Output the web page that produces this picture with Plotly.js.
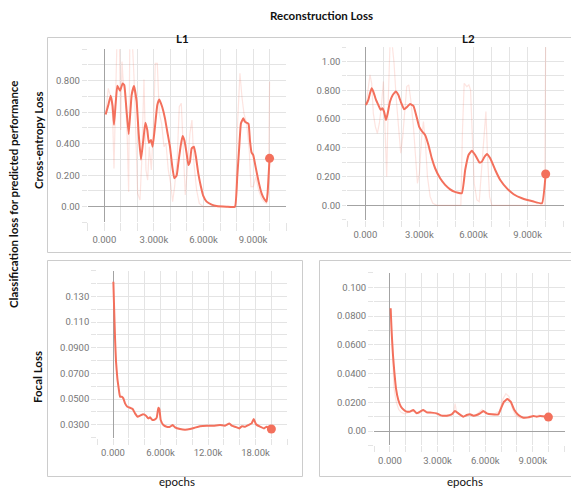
<!DOCTYPE html>
<html><head><meta charset="utf-8">
<script src="https://cdn.plot.ly/plotly-3.0.1.min.js"></script>
<style>html,body{margin:0;padding:0;background:#fff;}#chart{width:571px;height:489px;}</style>
</head><body><div id="chart"></div>
<script>
// ---------- data ----------
// L1 / cross-entropy (top-left)
const tlX = [80,240,380,500,585,690,786,950,1109,1210,1310,1472,1653,1794,1956,2077,2218,2359,2480,2600,2700,2822,2923,3065,3206,3327,3508,3669,3810,3972,4113,4234,4375,4476,4617,4738,4839,4980,5081,5181,5282,5423,5544,5685,5847,5988,6190,6492,6794,7399,7903,8044,8165,8266,8407,8508,8609,8730,8810,8911,9012,9173,9335,9516,9677,9819,9879,10000];
const tlY = [0.586,0.645,0.705,0.64,0.52,0.66,0.768,0.736,0.783,0.772,0.656,0.461,0.709,0.766,0.667,0.466,0.30,0.423,0.533,0.487,0.406,0.423,0.381,0.508,0.646,0.681,0.631,0.561,0.476,0.381,0.254,0.18,0.197,0.275,0.385,0.449,0.423,0.339,0.265,0.286,0.37,0.381,0.317,0.212,0.127,0.068,0.032,0.013,0.004,0.0,0.0,0.19,0.381,0.529,0.561,0.54,0.533,0.525,0.423,0.343,0.328,0.243,0.159,0.085,0.049,0.032,0.085,0.307];
const tlRawX = [81,242,383,504,585,706,786,907,988,1069,1149,1270,1391,1472,1552,1673,1794,1915,2016,2157,2258,2399,2520,2621,2722,2843,2964,3085,3206,3327,3468,3609,3730,3871,4012,4133,4254,4415,4536,4657,4778,4899,5020,5181,5302,5423,5585,5746,5988,6500,7000,7500,7950,8044,8206,8327,8448,8609,8770,8871,9012,9173,9335,9516,9657,9819,9940,10000];
const tlRaw = [0.593,0.751,0.698,0.571,0.243,0.698,1.15,1.1,0.487,0.921,0.783,0.698,0.423,0.095,1.2,1.1,0.825,0.423,0.085,0.042,0.275,0.808,0.233,0.169,0.381,0.233,0.487,0.91,0.91,0.593,0.529,0.381,0.402,0.233,0.148,0.032,0.127,0.317,0.635,0.656,0.317,0.074,0.233,0.466,0.55,0.275,0.106,0.021,0.0,0.0,0.0,0.0,0.0,0.487,0.847,0.698,0.593,0.529,0.36,0.127,0.127,0.19,0.106,0.053,0.032,0.021,0.148,0.794];

// L2 / cross-entropy (top-right)
const trX = [37,167,259,352,444,593,722,852,944,1037,1148,1241,1370,1519,1685,1833,1981,2148,2296,2481,2667,2815,2981,3130,3315,3500,3685,3870,4148,4426,4704,4926,5352,5537,5722,5907,6093,6333,6463,6593,6741,6926,7204,7481,7852,8222,8685,9333,9796,10000];
const trY = [0.698,0.733,0.78,0.814,0.791,0.733,0.698,0.664,0.675,0.652,0.594,0.64,0.722,0.768,0.791,0.768,0.715,0.668,0.682,0.705,0.691,0.629,0.548,0.517,0.49,0.42,0.327,0.258,0.188,0.142,0.111,0.095,0.084,0.246,0.35,0.38,0.35,0.297,0.304,0.334,0.357,0.327,0.246,0.176,0.118,0.077,0.049,0.026,0.014,0.218];
const trRawX = [37,167,259,352,444,556,667,778,889,1000,1093,1185,1278,1370,1481,1593,1704,1833,1963,2074,2185,2296,2407,2519,2667,2796,2889,3000,3111,3222,3333,3444,3593,3741,3963,4500,5000,5296,5389,5481,5630,5741,5833,5926,6037,6185,6315,6444,6556,6685,6778,6889,7019,8000,9000,9944,10000];
const trRaw = [0.698,0.803,0.907,0.849,0.64,0.548,0.501,0.571,0.687,0.861,0.524,0.2,0.756,1.13,1.13,0.988,0.756,0.548,0.362,0.478,0.664,0.826,0.838,0.733,0.548,0.339,0.153,0.223,0.455,0.582,0.432,0.2,0.06,0.014,0.0,0.0,0.0,0.0,0.524,0.849,0.826,0.838,0.803,0.455,0.153,0.037,0.026,0.246,0.455,0.652,0.339,0.06,0.0,0.0,0.0,0.0,1.15];

// L1 / focal (bottom-left)
const blX = [42,126,253,379,547,716,884,1095,1305,1516,1811,2147,2484,2779,3116,3411,3832,4168,4463,4674,4968,5305,5516,5726,5853,6021,6358,6779,7200,7537,7832,8463,9095,9726,10358,10989,11832,12674,13516,14147,14695,14989,15411,15958,16253,16674,17095,17516,17768,18063,18568,19074,19411,19747,20000];
const blY = [0.1414,0.1232,0.0973,0.0791,0.0661,0.0583,0.0518,0.0518,0.0505,0.0466,0.044,0.0432,0.0422,0.0388,0.0362,0.037,0.0381,0.037,0.0349,0.0357,0.0336,0.0342,0.0355,0.0432,0.0422,0.0336,0.0297,0.0284,0.0284,0.0297,0.0279,0.0266,0.0261,0.0266,0.0277,0.0287,0.0292,0.0292,0.0297,0.0292,0.031,0.0292,0.0284,0.0271,0.0287,0.0284,0.0297,0.031,0.0344,0.0303,0.0284,0.0271,0.0284,0.0271,0.0266];

// L2 / focal (bottom-right)
const brX = [42,105,189,273,378,525,693,882,1050,1261,1471,1681,1891,2101,2311,2626,2941,3256,3571,3887,4097,4307,4622,4832,5042,5252,5462,5672,5882,6092,6408,6828,6996,7185,7395,7605,7836,8088,8403,8718,9034,9244,9454,9769,9979];
const brY = [0.0854,0.0691,0.0529,0.0413,0.0297,0.0216,0.0169,0.0146,0.0135,0.0135,0.0146,0.0123,0.0135,0.0146,0.013,0.0128,0.0123,0.0107,0.0107,0.0116,0.0139,0.0123,0.01,0.0111,0.0116,0.0107,0.0111,0.0123,0.0139,0.0123,0.0116,0.0116,0.0158,0.0204,0.0223,0.0204,0.0146,0.0111,0.0093,0.0095,0.0104,0.01,0.0104,0.01,0.0097];
const brRawX = [42,150,250,400,550,700,900,1200,1500,1800,2100,2400,2800,3200,3600,4000,4100,4200,4600,5000,5400,5800,5900,6200,6600,6900,7100,7300,7500,7700,7900,8200,8600,9000,9400,9800,9979];
const brRaw = [0.0854,0.05,0.03,0.02,0.015,0.013,0.012,0.013,0.014,0.012,0.015,0.013,0.012,0.011,0.01,0.012,0.019,0.013,0.01,0.011,0.011,0.015,0.013,0.012,0.012,0.014,0.022,0.026,0.024,0.016,0.011,0.009,0.009,0.01,0.011,0.01,0.0097];

// tick labels
const stepXTickVals = [0,3000,6000,9000];
const stepXTickText = ['0.000','3.000k','6.000k','9.000k'];
const blXTickVals = [0,6000,12000,18000];
const blXTickText = ['0.000','6.000k','12.00k','18.00k'];
const tlYTickVals = [0,0.2,0.4,0.6,0.8];
const tlYTickText = ['0.00','0.200','0.400','0.600','0.800'];
const trYTickVals = [0,0.2,0.4,0.6,0.8,1.0];
const trYTickText = ['0.00','0.200','0.400','0.600','0.800','1.00'];
const blYTickVals = [0.03,0.05,0.07,0.09,0.11,0.13];
const blYTickText = ['0.0300','0.0500','0.0700','0.0900','0.110','0.130'];
const brYTickVals = [0,0.02,0.04,0.06,0.08,0.1];
const brYTickText = ['0.00','0.0200','0.0400','0.0600','0.0800','0.100'];

// ---------- helpers ----------
const W = 571, H = 489;
const fx = p => p / W, fy = p => 1 - p / H;
const LINE = '#f3705c', RAW = 'rgba(243,112,92,0.19)';
const GRID = '#e4e4e4', ZERO = '#a3a3a3';
const TICKFONT = {family: 'Roboto, "Liberation Sans", Arial, sans-serif', size: 9.5, color: '#777'};
const TITLEFONT = 'Lato, Carlito, "Liberation Sans", sans-serif';

function grid(a, b, step) {
  const out = []; const n = Math.round((b - a) / step);
  for (let i = 0; i <= n; i++) out.push(+(a + i * step).toFixed(6));
  return out;
}
function labelsFor(vals, labVals, labText) {
  return vals.map(v => { const i = labVals.findIndex(u => Math.abs(u - v) < 1e-9); return i >= 0 ? labText[i] : ''; });
}
function axis(dom, range, step, labVals, labText, ticklen, anchor) {
  const vals = grid(range[0], range[1], step);
  return {
    domain: dom, range: range, anchor: anchor,
    tickmode: 'array', tickvals: vals, ticktext: labelsFor(vals, labVals, labText),
    showgrid: true, gridcolor: GRID, gridwidth: 1,
    zeroline: true, zerolinecolor: ZERO, zerolinewidth: 1,
    showline: false, ticks: 'outside', ticklen: ticklen, tickcolor: GRID, tickwidth: 1,
    tickfont: TICKFONT, fixedrange: true
  };
}

function panel(xa, ya, x, y, rawX, raw) {
  const t = [];
  if (rawX) t.push({x: rawX, y: raw, xaxis: xa, yaxis: ya, type: 'scatter', mode: 'lines',
    line: {color: RAW, width: 1.2}, hoverinfo: 'skip'});
  t.push({x: x, y: y, xaxis: xa, yaxis: ya, type: 'scatter', mode: 'lines',
    line: {color: LINE, width: 2, shape: 'spline', smoothing: 0.35}});
  t.push({x: [x[x.length - 1]], y: [y[y.length - 1]], xaxis: xa, yaxis: ya, type: 'scatter', mode: 'markers',
    marker: {color: LINE, size: 9}});
  return t;
}

const data = [].concat(
  panel('x', 'y', tlX, tlY, tlRawX, tlRaw),
  panel('x2', 'y2', trX, trY, trRawX, trRaw),
  panel('x3', 'y3', blX, blY),
  panel('x4', 'y4', brX, brY, brRawX, brRaw)
);

const layout = {
  width: W, height: H, margin: {l: 0, r: 0, t: 0, b: 0},
  paper_bgcolor: '#fff', plot_bgcolor: '#fff', showlegend: false,
  xaxis:  axis([fx(87.8), fx(286.1)], [-1000, 11000], 1000, stepXTickVals, stepXTickText, 8, 'y'),
  yaxis:  axis([fy(222.45), fy(49.2)], [-0.1, 1.0], 0.1, tlYTickVals, tlYTickText, 5, 'x'),
  xaxis2: axis([fx(347.3), fx(563.7)], [-1000, 11000], 1000, stepXTickVals, stepXTickText, 6, 'y2'),
  yaxis2: axis([fy(219.7), fy(47.2)], [-0.1, 1.1], 0.1, trYTickVals, trYTickText, 4, 'x2'),
  xaxis3: axis([fx(97.2), fx(287.2)], [-2000, 22000], 2000, blXTickVals, blXTickText, 6, 'y3'),
  yaxis3: axis([fy(437.5), fy(270.7)], [0.02, 0.15], 0.01, blYTickVals, blYTickText, 5, 'x3'),
  xaxis4: axis([fx(374.1), fx(564.6)], [-1000, 11000], 1000, stepXTickVals, stepXTickText, 6, 'y4'),
  yaxis4: axis([fy(445.4), fy(272.9)], [-0.01, 0.11], 0.01, brYTickVals, brYTickText, 5, 'x4'),
  shapes: [
    {type: 'rect', xref: 'paper', yref: 'paper', x0: fx(47.5), x1: fx(580), y0: fy(252.5), y1: fy(37.5), line: {color: '#cccccc', width: 1}, layer: 'below'},
    {type: 'rect', xref: 'paper', yref: 'paper', x0: fx(47.5), x1: fx(302.5), y0: fy(476.5), y1: fy(260.5), line: {color: '#cccccc', width: 1}, layer: 'below'},
    {type: 'rect', xref: 'paper', yref: 'paper', x0: fx(319.5), x1: fx(580), y0: fy(476.5), y1: fy(260.5), line: {color: '#cccccc', width: 1}, layer: 'below'}
  ],
  annotations: [
    {text: '<b>Reconstruction Loss</b>', x: fx(321), y: fy(15), font: {family: TITLEFONT, size: 11.5, color: '#111'}},
    {text: '<b>L1</b>', x: fx(182), y: fy(38), font: {family: TITLEFONT, size: 11.5, color: '#111'}},
    {text: '<b>L2</b>', x: fx(468), y: fy(38), font: {family: TITLEFONT, size: 11.5, color: '#111'}},
    {text: '<b>Classification loss for predicted performance</b>', x: fx(14), y: fy(195), textangle: -90, font: {family: TITLEFONT, size: 11.5, color: '#111'}},
    {text: '<b>Cross-entropy Loss</b>', x: fx(38), y: fy(140), textangle: -90, font: {family: TITLEFONT, size: 11.5, color: '#111'}},
    {text: '<b>Focal Loss</b>', x: fx(37), y: fy(377), textangle: -90, font: {family: TITLEFONT, size: 11.5, color: '#111'}},
    {text: 'epochs', x: fx(177), y: fy(481), font: {family: TITLEFONT, size: 11.5, color: '#111'}},
    {text: 'epochs', x: fx(465), y: fy(481), font: {family: TITLEFONT, size: 11.5, color: '#111'}}
  ].map(a => Object.assign({xref: 'paper', yref: 'paper', xanchor: 'center', yanchor: 'middle', showarrow: false}, a))
};

Plotly.newPlot('chart', data, layout, {staticPlot: true, displayModeBar: false});
</script>
</body></html>
